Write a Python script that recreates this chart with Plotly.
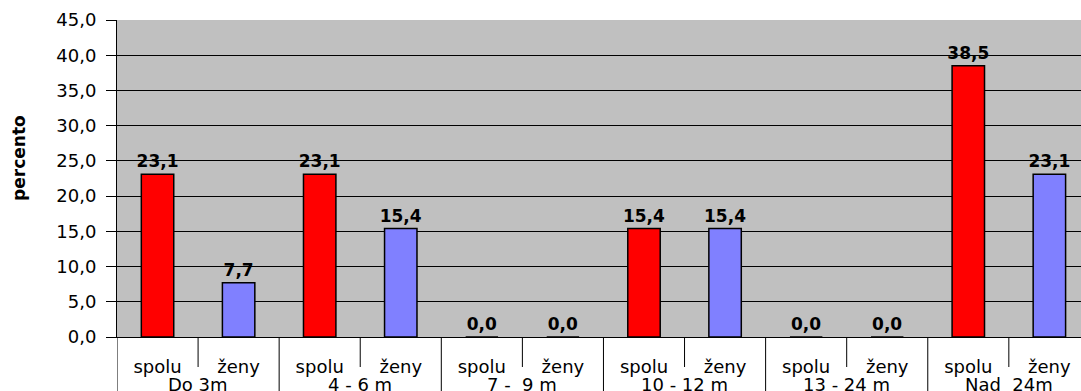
import plotly.graph_objects as go

groups = ["Do 3m", "4 - 6 m", "7 -  9 m", "10 - 12 m", "13 - 24 m", "Nad  24m"]
series_names = ["spolu", "ženy"]
spolu = [23.1, 23.1, 0.0, 15.4, 0.0, 38.5]
zeny = [7.7, 15.4, 0.0, 15.4, 0.0, 23.1]
series_colors = ["#FF0000", "#8080FF"]

# interleave the two series per age group: spolu, ženy, spolu, ženy, ...
inner = []
values = []
colors = []
for s, z in zip(spolu, zeny):
    inner += series_names
    values += [s, z]
    colors += series_colors
pos = list(range(len(values)))

font = "DejaVu Sans, Arial, sans-serif"
n_inner = len(series_names)
plot_h = 391 - 20 - 54

fig = go.Figure(
    go.Bar(
        x=pos,
        y=values,
        width=0.4,
        marker=dict(color=colors, line=dict(color="black", width=1.5)),
        texttemplate="<b>%{y:.1f}</b>",
        textposition="outside",
        constraintext="none",
        textfont=dict(family=font, size=17, color="black"),
        cliponaxis=False,
    )
)

# separators below the axis: short ones between series, long ones between groups
shapes = []
for b in range(len(values) + 1):
    xb = b - 0.5
    is_group = b % n_inner == 0
    depth = 60 if is_group else 30
    shapes.append(
        dict(
            type="line",
            xref="x",
            yref="paper",
            x0=xb,
            x1=xb,
            y0=0,
            y1=-depth / plot_h,
            line=dict(color="black", width=1),
        )
    )

annotations = [
    dict(
        text=g,
        xref="x",
        yref="paper",
        x=i * n_inner + (n_inner - 1) / 2,
        y=0,
        yshift=-35,
        xanchor="center",
        yanchor="top",
        showarrow=False,
        font=dict(family=font, size=18, color="black"),
    )
    for i, g in enumerate(groups)
]
annotations.append(
    dict(
        text="<b>percento</b>",
        textangle=-90,
        xref="paper",
        yref="paper",
        x=0,
        y=0.565,
        xshift=-98,
        xanchor="center",
        yanchor="middle",
        showarrow=False,
        font=dict(family=font, size=17, color="black"),
    )
)

fig.update_layout(
    width=1081,
    height=391,
    margin=dict(l=117, r=0, t=20, b=54),
    paper_bgcolor="white",
    plot_bgcolor="#C0C0C0",
    separators=", ",
    showlegend=False,
    font=dict(family=font, size=17, color="black"),
    shapes=shapes,
    annotations=annotations,
)

fig.update_xaxes(
    range=[-0.5, 11.39],
    tickmode="array",
    tickvals=pos,
    ticktext=inner,
    showline=True,
    linecolor="black",
    linewidth=1,
    ticks="",
    ticklabelstandoff=13,
    showgrid=False,
    zeroline=False,
    tickfont=dict(family=font, size=18, color="black"),
)

fig.update_yaxes(
    range=[0, 45],
    dtick=5,
    tickformat=".1f",
    showgrid=True,
    gridcolor="black",
    gridwidth=1,
    showline=True,
    linecolor="black",
    linewidth=1,
    ticks="outside",
    ticklen=10,
    tickcolor="black",
    ticklabelstandoff=6,
    zeroline=False,
    tickfont=dict(family=font, size=18, color="black"),
)

fig.write_html("out.html")
